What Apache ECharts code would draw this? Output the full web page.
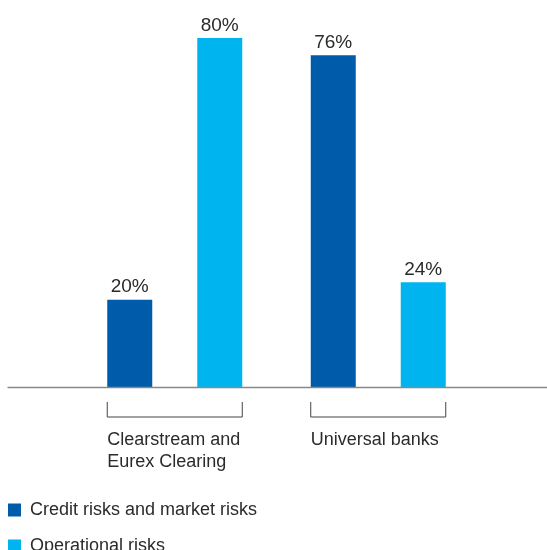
<!DOCTYPE html>
<html>
<head>
<meta charset="utf-8">
<script src="https://cdn.jsdelivr.net/npm/echarts@6/dist/echarts.min.js"></script>
<style>
html,body{margin:0;padding:0;background:#fff;}
#chart{width:547px;height:550px;}
</style>
</head>
<body>
<div id="chart"></div>
<script>
var categories = ['Clearstream and\nEurex Clearing', 'Universal banks'];
var seriesNames = ['Credit risks and market risks', 'Operational risks'];
var creditValues = [20, 76];
var operationalValues = [80, 24];

var FONT = 'Liberation Sans';
var TEXT = '#2b2b2b';
var chart = echarts.init(document.getElementById('chart'));

chart.setOption({
  animation: false,
  color: ['#005BAA', '#00B5EF'],
  grid: [
    { left: 73, width: 407, top: 3, bottom: 163 },
    { left: 8, right: 0, top: 3, bottom: 163 }
  ],
  xAxis: [
    { type: 'category', gridIndex: 0, data: categories,
      axisLine: { show: false }, axisTick: { show: false }, axisLabel: { show: false } },
    { type: 'value', gridIndex: 1, min: 0, max: 1, z: 5,
      axisLine: { show: true, onZero: false, lineStyle: { color: '#888888', width: 1.3 } },
      axisTick: { show: false }, axisLabel: { show: false }, splitLine: { show: false } }
  ],
  yAxis: [
    { type: 'value', gridIndex: 0, min: 0, max: 88, show: false },
    { type: 'value', gridIndex: 1, min: 0, max: 1, show: false }
  ],
  legend: {
    orient: 'vertical', left: 8, top: 501, height: 120, padding: 0,
    itemWidth: 13, itemHeight: 13, itemGap: 18,
    icon: 'rect',
    textStyle: { fontFamily: FONT, fontSize: 18, color: TEXT, padding: [0, 0, 0, 4] },
    data: seriesNames
  },
  series: [
    { name: seriesNames[0], type: 'bar', data: creditValues, barWidth: 45, barGap: '100%',
      label: { show: true, position: 'top', distance: 3, formatter: '{c}%',
        fontFamily: FONT, fontSize: 19, color: TEXT } },
    { name: seriesNames[1], type: 'bar', data: operationalValues, barWidth: 45, barGap: '100%',
      label: { show: true, position: 'top', distance: 3, formatter: '{c}%',
        fontFamily: FONT, fontSize: 19, color: TEXT } },
    { type: 'custom', xAxisIndex: 0, yAxisIndex: 0, silent: true, clip: false,
      data: categories.map(function (c, i) { return [i, 0]; }),
      renderItem: function (params, api) {
        var p = api.coord([api.value(0), 0]);
        var band = api.size([1, 0])[0];
        var half = band * 0.3317;
        var x0 = p[0] - half, x1 = p[0] + half;
        var y0 = p[1] + 15, y1 = p[1] + 30;
        return {
          type: 'group',
          children: [
            { type: 'polyline', shape: { points: [[x0, y0], [x0, y1], [x1, y1], [x1, y0]] },
              style: { stroke: '#444', lineWidth: 1, fill: null } },
            { type: 'text', style: { text: categories[params.dataIndex], x: x0, y: p[1] + 42,
              font: '18px "' + FONT + '"', fill: TEXT, lineHeight: 22,
              textAlign: 'left', textVerticalAlign: 'top' } }
          ]
        };
      }
    }
  ]
});
</script>
</body>
</html>
